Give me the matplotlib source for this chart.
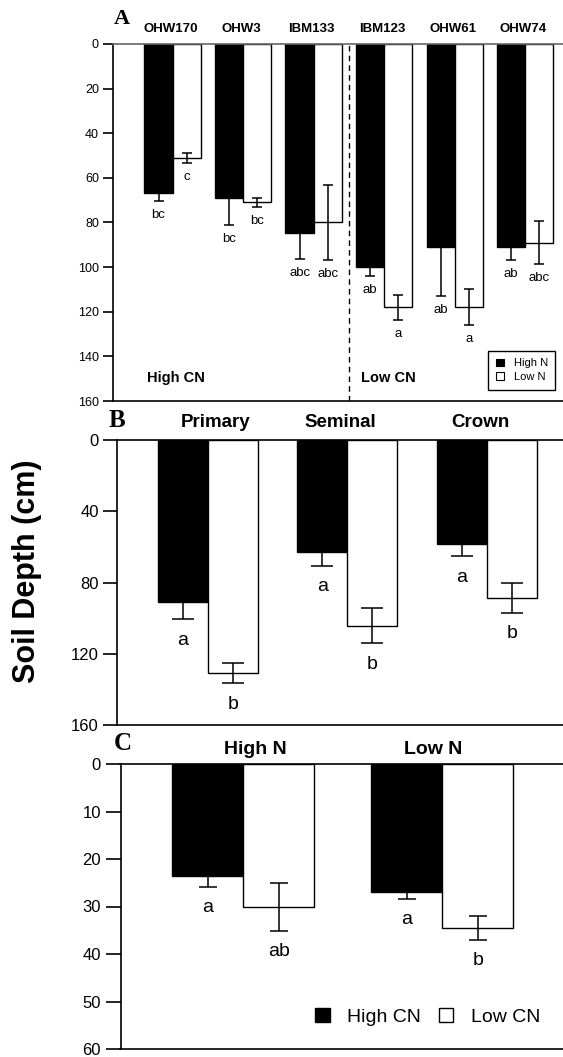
import numpy as np
import matplotlib
matplotlib.use("Agg")
import matplotlib.pyplot as plt

plt.rcParams['font.family'] = ['Liberation Sans', 'DejaVu Sans']

# ---------------- data ----------------
a_genotypes = ['OHW170', 'OHW3', 'IBM133', 'IBM123', 'OHW61', 'OHW74']
a_highN = [67, 69, 84.5, 100, 91, 91]
a_highN_err = [3.5, 12, 11.8, 4, 22, 6]
a_lowN = [51, 71, 80, 118, 118, 89]
a_lowN_err = [2.3, 2.1, 17, 5.6, 8, 9.7]
a_highN_let = ['bc', 'bc', 'abc', 'ab', 'ab', 'ab']
a_lowN_let = ['c', 'bc', 'abc', 'a', 'a', 'abc']
a_yticks = [0, 20, 40, 60, 80, 100, 120, 140, 160]

b_roots = ['Primary', 'Seminal', 'Crown']
b_highN = [91, 62.5, 58]
b_highN_err = [9.6, 8, 7.3]
b_lowN = [130.7, 104.2, 88.6]
b_lowN_err = [5.8, 9.8, 8.2]
b_highN_let = ['a', 'a', 'a']
b_lowN_let = ['b', 'b', 'b']
b_yticks = [0, 40, 80, 120, 160]

c_groups = ['High N', 'Low N']
c_highCN = [23.5, 26.9]
c_highCN_err = [2.3, 1.5]
c_lowCN = [30.1, 34.5]
c_lowCN_err = [5, 2.45]
c_highCN_let = ['a', 'a']
c_lowCN_let = ['ab', 'b']
c_yticks = [0, 10, 20, 30, 40, 50, 60]

# ---------------- figure ----------------
W, H = 563, 1057
fig = plt.figure(figsize=(W / 100, H / 100), dpi=100)


def ax_px(l, t, r, b):
    return fig.add_axes([l / W, 1 - b / H, (r - l) / W, (b - t) / H])


def style_axes(ax, ticks, ymax, ticklen, tickfs, xlim):
    ax.set_ylim(ymax, 0)
    ax.set_xlim(*xlim)
    ax.set_yticks(ticks)
    ax.set_xticks([])
    ax.spines['right'].set_visible(False)
    for s in ['left', 'top', 'bottom']:
        ax.spines[s].set_linewidth(1.2)
    ax.tick_params(axis='y', direction='out', length=ticklen, width=1.2,
                   labelsize=tickfs, pad=3)


def draw_pairs(ax, v1, e1, v2, e2, width, capsize, l1, l2, off, lfs):
    x = np.arange(len(v1))
    ax.bar(x - width / 2, v1, width, color='black', edgecolor='black',
           linewidth=1, zorder=2)
    ax.bar(x + width / 2, v2, width, color='white', edgecolor='black',
           linewidth=1, zorder=2)
    ax.errorbar(x - width / 2, v1, yerr=e1, fmt='none', ecolor='black',
                elinewidth=1.1, capsize=capsize, capthick=1.1, zorder=3)
    ax.errorbar(x + width / 2, v2, yerr=e2, fmt='none', ecolor='black',
                elinewidth=1.1, capsize=capsize, capthick=1.1, zorder=3)
    for i in range(len(v1)):
        ax.text(x[i] - width / 2, v1[i] + e1[i] + off, l1[i], ha='center',
                va='center', fontsize=lfs)
        ax.text(x[i] + width / 2, v2[i] + e2[i] + off, l2[i], ha='center',
                va='center', fontsize=lfs)


serif = ['Liberation Serif', 'DejaVu Serif']

# ---------------- Panel A ----------------
axA = ax_px(113.1, 44, 563, 401)
style_axes(axA, a_yticks, 160, 7.2, 9, (-0.845, 5.536))
axA.spines['top'].set_color('#666666')
draw_pairs(axA, a_highN, a_highN_err, a_lowN, a_lowN_err, 0.40, 3.9,
           a_highN_let, a_lowN_let, 6.3, 9.5)
axA.axvline(2.5, color='black', linestyle=(0, (4, 3)), linewidth=1.0)
for i, g in enumerate(a_genotypes):
    axA.text(i - 0.03, -6.7, g, ha='center', va='center', fontsize=9.5,
             weight='bold', clip_on=False)
axA.text(-0.362, 149.7, 'High CN', ha='left', va='center', fontsize=10.5,
         weight='bold')
axA.text(2.669, 149.7, 'Low CN', ha='left', va='center', fontsize=10.5,
         weight='bold')
hA = [plt.Rectangle((0, 0), 1, 1, facecolor='black', edgecolor='black', lw=0.8),
      plt.Rectangle((0, 0), 1, 1, facecolor='white', edgecolor='black', lw=0.8)]
legA = axA.legend(hA, ['High N', 'Low N'], loc='upper left',
                  bbox_to_anchor=(488 / W, 1 - 350.7 / H),
                  bbox_transform=fig.transFigure, fontsize=8,
                  handlelength=0.7, handleheight=0.7, handletextpad=0.9,
                  borderpad=0.7, labelspacing=0.3, fancybox=False,
                  framealpha=1, edgecolor='black', borderaxespad=0)
legA.get_frame().set_linewidth(1.0)
fig.text(122 / W, 1 - 19.5 / H, 'A', ha='center', va='center', fontsize=16,
         weight='bold', family=serif)

# ---------------- Panel B ----------------
axB = ax_px(116.7, 440.3, 563, 725)
style_axes(axB, b_yticks, 160, 10, 12, (-0.654, 2.546))
draw_pairs(axB, b_highN, b_highN_err, b_lowN, b_lowN_err, 0.358, 7.7,
           b_highN_let, b_lowN_let, 11.8, 14)
b_off = [0.058, -0.048, -0.046]
for i, g in enumerate(b_roots):
    axB.text(i + b_off[i], -9.9, g, ha='center', va='center', fontsize=13.5,
             weight='bold', clip_on=False)
fig.text(117 / W, 1 - 420.5 / H, 'B', ha='center', va='center', fontsize=18,
         weight='bold', family=serif)

# ---------------- Panel C ----------------
axC = ax_px(120.5, 764, 563, 1049)
style_axes(axC, c_yticks, 60, 11, 12, (-0.616, 1.606))
draw_pairs(axC, c_highCN, c_highCN_err, c_lowCN, c_lowCN_err, 0.357, 6.5,
           c_highCN_let, c_lowCN_let, 4.4, 14)
c_off = [0.062, -0.044]
for i, g in enumerate(c_groups):
    axC.text(i + c_off[i], -2.95, g, ha='center', va='center', fontsize=14,
             weight='bold', clip_on=False)
hC = [plt.Rectangle((0, 0), 1, 1, facecolor='black', edgecolor='black', lw=1),
      plt.Rectangle((0, 0), 1, 1, facecolor='white', edgecolor='black', lw=1)]
axC.legend(hC, ['High CN', 'Low CN'], loc='center left',
           bbox_to_anchor=(315.3 / W, 1 - 1016.7 / H),
           bbox_transform=fig.transFigure, fontsize=14, ncol=2,
           handlelength=0.75, handleheight=0.75, handletextpad=0.9,
           columnspacing=0.9, borderpad=0, borderaxespad=0, frameon=False)
fig.text(122.7 / W, 1 - 744 / H, 'C', ha='center', va='center', fontsize=18,
         weight='bold', family=serif)

# ---------------- shared y label ----------------
fig.text(27.5 / W, 1 - 571.5 / H, 'Soil Depth (cm)', rotation=90, ha='center',
         va='center', fontsize=22, weight='bold')

fig.savefig('out.png', dpi=100)
